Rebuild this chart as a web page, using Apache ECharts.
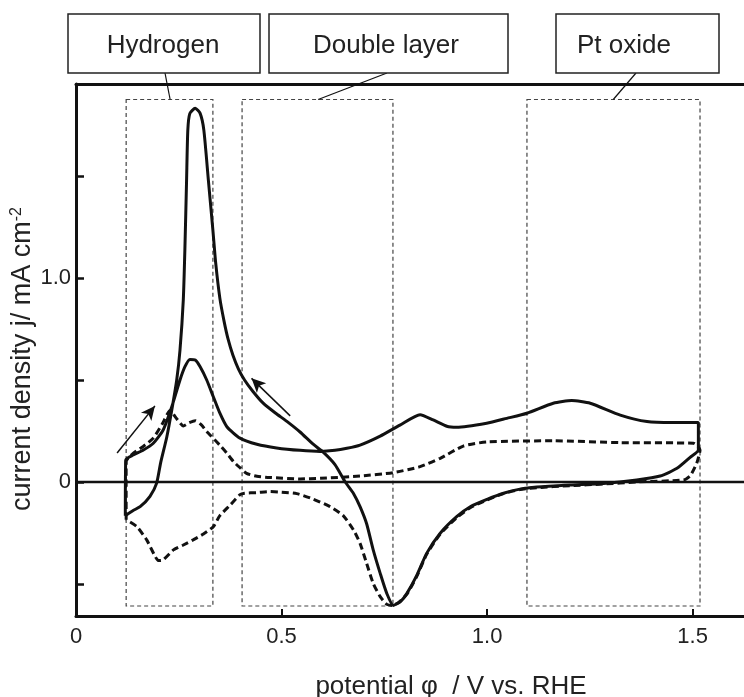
<!DOCTYPE html>
<html>
<head>
<meta charset="utf-8">
<script src="https://cdn.jsdelivr.net/npm/echarts@6/dist/echarts.min.js"></script>
<style>
	html, body { margin: 0; padding: 0; background: #fff; }
	#main { width: 744px; height: 697px; }
</style>
</head>
<body>
<div id="main"></div>
<script>
	// axis extent (V vs. RHE, mA cm-2)
	const xMax = 1.625;
	const yMin = -0.657;
	const yMax = 1.951;

	const xTicks = [0, 0.5, 1.0, 1.5];
	const yTicks = [-0.5, 0, 0.5, 1.0, 1.5];
	const yLabels = [0, 1.0];

	// solid CV, anodic then cathodic sweep
	const solidAnodic = [
		[0.120, -0.165], [0.121, 0.108], [0.139, 0.132], [0.164, 0.157], [0.188, 0.190],
		[0.212, 0.255], [0.233, 0.369], [0.253, 0.500], [0.265, 0.565], [0.277, 0.601],
		[0.290, 0.598], [0.302, 0.565], [0.318, 0.500], [0.334, 0.418], [0.350, 0.337],
		[0.367, 0.271], [0.399, 0.215], [0.440, 0.185], [0.488, 0.167], [0.545, 0.155],
		[0.594, 0.150], [0.630, 0.155], [0.659, 0.165], [0.691, 0.181], [0.740, 0.225],
		[0.788, 0.279], [0.837, 0.330], [0.869, 0.304], [0.902, 0.273], [0.926, 0.268],
		[0.999, 0.288], [1.048, 0.312], [1.097, 0.337], [1.161, 0.386], [1.206, 0.399],
		[1.251, 0.386], [1.324, 0.328], [1.389, 0.296], [1.450, 0.291], [1.514, 0.291]
	];
	const solidCathodic = [
		[1.514, 0.157], [1.494, 0.121], [1.462, 0.067], [1.421, 0.029], [1.364, 0.010],
		[1.283, -0.007], [1.202, -0.015], [1.121, -0.025], [1.080, -0.035], [1.040, -0.055],
		[1.000, -0.085], [0.960, -0.120], [0.926, -0.170], [0.886, -0.251], [0.853, -0.350],
		[0.829, -0.458], [0.805, -0.546], [0.790, -0.585], [0.772, -0.605], [0.756, -0.546],
		[0.740, -0.448], [0.723, -0.333], [0.707, -0.205], [0.691, -0.121], [0.675, -0.056],
		[0.655, 0.000], [0.630, 0.085], [0.602, 0.145], [0.577, 0.185], [0.545, 0.245],
		[0.513, 0.297], [0.485, 0.338], [0.456, 0.385], [0.430, 0.445], [0.410, 0.500],
		[0.395, 0.555], [0.382, 0.620], [0.370, 0.700], [0.360, 0.790], [0.350, 0.900],
		[0.340, 1.070], [0.333, 1.235], [0.322, 1.480], [0.311, 1.725], [0.302, 1.807],
		[0.290, 1.832], [0.277, 1.807], [0.272, 1.725], [0.269, 1.480], [0.265, 1.150],
		[0.261, 0.892], [0.253, 0.647], [0.245, 0.500], [0.233, 0.353], [0.221, 0.222],
		[0.206, 0.095], [0.196, -0.007], [0.180, -0.070], [0.156, -0.121], [0.139, -0.140],
		[0.120, -0.165]
	];

	// dashed CV (blank)
	const dashedAnodic = [
		[0.122, -0.185], [0.122, 0.100], [0.139, 0.140], [0.164, 0.175], [0.188, 0.215],
		[0.210, 0.285], [0.229, 0.350], [0.245, 0.310], [0.261, 0.275], [0.275, 0.290],
		[0.290, 0.300], [0.305, 0.280], [0.318, 0.247], [0.338, 0.206], [0.350, 0.180],
		[0.367, 0.141], [0.383, 0.100], [0.399, 0.070], [0.415, 0.042], [0.440, 0.028],
		[0.472, 0.022], [0.545, 0.015], [0.594, 0.018], [0.691, 0.029], [0.772, 0.046],
		[0.837, 0.075], [0.886, 0.116], [0.942, 0.176], [0.999, 0.196], [1.161, 0.202],
		[1.324, 0.193], [1.502, 0.190], [1.518, 0.157]
	];
	const dashedCathodic = [
		[1.510, 0.092], [1.494, 0.030], [1.478, 0.010], [1.364, 0.000], [1.283, -0.010],
		[1.202, -0.018], [1.121, -0.028], [1.080, -0.037], [1.040, -0.057], [1.000, -0.088],
		[0.960, -0.125], [0.926, -0.175], [0.886, -0.255], [0.853, -0.355], [0.829, -0.462],
		[0.805, -0.550], [0.785, -0.590], [0.770, -0.605], [0.756, -0.600], [0.740, -0.562],
		[0.723, -0.497], [0.707, -0.399], [0.691, -0.301], [0.675, -0.235], [0.650, -0.165],
		[0.618, -0.121], [0.577, -0.084], [0.537, -0.057], [0.500, -0.050], [0.472, -0.047],
		[0.440, -0.052], [0.410, -0.055], [0.399, -0.062], [0.375, -0.113], [0.350, -0.165],
		[0.334, -0.219], [0.310, -0.255], [0.285, -0.284], [0.260, -0.310], [0.237, -0.333],
		[0.212, -0.382], [0.200, -0.385], [0.190, -0.355], [0.172, -0.284], [0.148, -0.219],
		[0.122, -0.185]
	];

	// potential windows of the three regions
	const regionNames = ['Hydrogen', 'Double layer', 'Pt oxide'];
	const regionRanges = [[0.122, 0.333], [0.404, 0.771], [1.097, 1.518]];
	const regionTop = 1.875;
	const regionBottom = -0.608;
	// where each leader line meets its region box
	const leaderPotentials = [0.229, 0.589, 1.307];

	// sweep direction arrows [from, to]
	const sweepArrows = [
		[[0.100, 0.142], [0.192, 0.373]],
		[[0.521, 0.324], [0.427, 0.508]]
	];

	const font = 'Liberation Sans, Arial, sans-serif';
	const ink = '#111';

	const chart = echarts.init(document.getElementById('main'));

	const option = {
		animation: false,
		backgroundColor: '#fff',
		grid: { left: 76, right: 0, top: 84, bottom: 81, outerBoundsMode: 'none' },
		xAxis: [
			{
				type: 'value',
				min: 0,
				max: xMax,
				name: 'potential \u03c6  / V vs. RHE',
				nameLocation: 'middle',
				nameGap: 58,
				nameMoveOverlap: false,
				nameTextStyle: { fontFamily: font, fontSize: 26, color: '#222', padding: [0, 0, 0, 82] },
				axisLine: { show: true, onZero: false, lineStyle: { color: ink, width: 3 } },
				axisTick: { show: true, inside: true, length: 7, customValues: xTicks, lineStyle: { color: ink, width: 2 } },
				axisLabel: {
					customValues: xTicks,
					margin: 10,
					fontFamily: font,
					fontSize: 22,
					color: '#222',
					formatter: v => (v === 0 ? '0' : v.toFixed(1))
				},
				splitLine: { show: false }
			},
			{
				type: 'value',
				position: 'top',
				min: 0,
				max: xMax,
				axisLine: { show: true, onZero: false, lineStyle: { color: ink, width: 3 } },
				axisTick: { show: false },
				axisLabel: { show: false },
				splitLine: { show: false }
			}
		],
		yAxis: {
			type: 'value',
			min: yMin,
			max: yMax,
			name: 'current density j/ mA cm{sup|-2}',
			nameLocation: 'middle',
			nameGap: 40,
			nameMoveOverlap: false,
			nameTextStyle: {
				fontFamily: font,
				fontSize: 27,
				color: '#222',
				padding: [0, 18, 0, 0],
				rich: { sup: { fontFamily: font, fontSize: 16, color: '#222', verticalAlign: 'top' } }
			},
			axisLine: { show: true, onZero: false, lineStyle: { color: ink, width: 3 } },
			axisTick: { show: true, inside: true, length: 8, customValues: yTicks, lineStyle: { color: ink, width: 2.5 } },
			axisLabel: {
				customValues: yLabels,
				margin: 5,
				fontFamily: font,
				fontSize: 22,
				color: '#222',
				formatter: v => (v === 0 ? '0' : v.toFixed(1))
			},
			splitLine: { show: false }
		},
		series: [
			{
				name: 'zero',
				type: 'line',
				data: [[0, 0], [xMax, 0]],
				symbol: 'none',
				silent: true,
				lineStyle: { color: ink, width: 2.5 },
				markArea: {
					silent: true,
					itemStyle: { color: 'rgba(0,0,0,0)', borderColor: '#444', borderWidth: 1.2, borderType: [4, 3] },
					data: regionRanges.map(r => [{ coord: [r[0], regionTop] }, { coord: [r[1], regionBottom] }])
				},
				markLine: {
					silent: true,
					symbol: ['none', 'arrow'],
					symbolSize: [10, 14],
					label: { show: false },
					lineStyle: { color: ink, width: 1.5, type: 'solid' },
					data: sweepArrows.map(a => [{ coord: a[0] }, { coord: a[1] }])
				}
			},
			{
				name: 'dashed',
				type: 'line',
				data: dashedAnodic.concat(dashedCathodic),
				symbol: 'none',
				smooth: 0.2,
				lineStyle: { color: ink, width: 3, type: [7, 4] }
			},
			{
				name: 'solid',
				type: 'line',
				data: solidAnodic.concat(solidCathodic),
				symbol: 'none',
				smooth: 0.2,
				lineStyle: { color: ink, width: 3 }
			}
		]
	};

	chart.setOption(option);

	// region label boxes above the frame, with leader lines down to each box
	const labelBoxes = [[68, 14, 192, 59], [269, 14, 239, 59], [556, 14, 163, 59]];
	const labelCenters = [163, 386, 624];
	const leaderTops = [165, 387, 636];

	const graphic = [];
	regionNames.forEach((name, i) => {
		const b = labelBoxes[i];
		const end = chart.convertToPixel({ xAxisIndex: 0, yAxisIndex: 0 }, [leaderPotentials[i], regionTop]);
		graphic.push({
			type: 'line',
			shape: { x1: leaderTops[i], y1: b[1] + b[3], x2: end[0], y2: end[1] },
			style: { stroke: ink, lineWidth: 1.2 },
			z: 10
		});
		graphic.push({
			type: 'rect',
			shape: { x: b[0], y: b[1], width: b[2], height: b[3] },
			style: { fill: '#fff', stroke: '#222', lineWidth: 1.5 },
			z: 11
		});
		graphic.push({
			type: 'text',
			x: labelCenters[i],
			y: 46,
			style: { text: name, fontFamily: font, fontSize: 26, fill: '#222', align: 'center', verticalAlign: 'middle' },
			z: 12
		});
	});

	chart.setOption({ graphic: graphic });
</script>
</body>
</html>
